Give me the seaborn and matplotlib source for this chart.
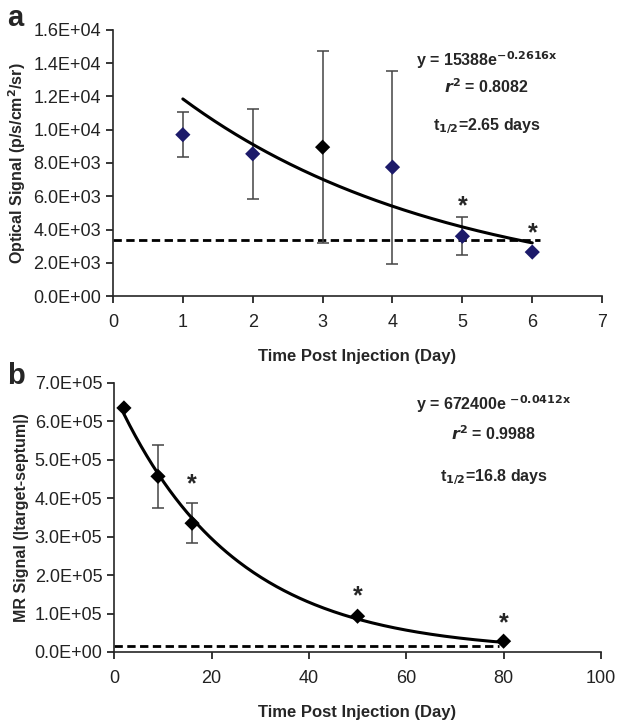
import numpy as np
import pandas as pd
import seaborn as sns
import matplotlib.pyplot as plt
from matplotlib.ticker import FuncFormatter

sns.set_style("ticks")
plt.rcParams['font.family'] = ['Liberation Sans', 'DejaVu Sans']

# panel a: optical signal
opt_day = [1, 2, 3, 4, 5, 6]
opt_signal = [9700, 8550, 8950, 7750, 3600, 2650]
opt_err = [1350, 2700, 5750, 5800, 1150, 0]
opt_colors = ['#1c1a6a', '#1c1a6a', '#000000', '#1c1a6a', '#1c1a6a', '#1c1a6a']
opt_baseline = 3350
opt_fit_a, opt_fit_k = 15388, -0.2616
opt_star_day = [5, 6]
opt_star_y = [5400, 3800]

# panel b: MR signal
mr_day = [2, 9, 16, 50, 80]
mr_signal = [635000, 457000, 335000, 93000, 28000]
mr_err = [0, 82000, 52000, 0, 0]
mr_baseline = 15000
mr_fit_a, mr_fit_k = 672400, -0.0412
mr_star_day = [16, 50, 80]
mr_star_y = [435000, 145000, 75000]

sci = FuncFormatter(lambda v, p: f"{v:.1E}")

fig = plt.figure(figsize=(6.24, 7.26), dpi=100)
ax1 = fig.add_axes([0.181, 0.592, 0.784, 0.367])
ax2 = fig.add_axes([0.183, 0.102, 0.780, 0.3705])

def draw(ax, x, y, err, colors, base, fa, fk, xend, sx, sy):
    xs = np.linspace(min(x), max(x), 200)
    fit = pd.DataFrame({'x': xs, 'y': fa * np.exp(fk * xs)})
    ax.axhline(base, xmin=0, xmax=xend, color='black',
               lw=2, ls=(0, (3, 1.6)), zorder=1)
    ax.errorbar(x, y, yerr=err, fmt='none', ecolor='#444444', elinewidth=1.1,
                capsize=4, capthick=1.1, zorder=2)
    sns.lineplot(data=fit, x='x', y='y', ax=ax, color='black', lw=2.2, zorder=3)
    df = pd.DataFrame({'x': x, 'y': y, 'c': colors})
    sns.scatterplot(data=df, x='x', y='y', hue='c', palette={c: c for c in set(colors)},
                    marker='D', s=60, edgecolor='none', legend=False, ax=ax, zorder=4)
    for a, b in zip(sx, sy):
        ax.text(a, b, '*', ha='center', va='center', fontsize=18, fontweight='bold')
    sns.despine(ax=ax)
    ax.spines['left'].set_linewidth(1.2)
    ax.spines['bottom'].set_linewidth(1.2)
    ax.tick_params(labelsize=13, width=1.1, length=5, colors='black', labelcolor='#222222')
    ax.tick_params(axis='x', pad=8)
    ax.yaxis.set_major_formatter(sci)

draw(ax1, opt_day, opt_signal, opt_err, opt_colors, opt_baseline,
     opt_fit_a, opt_fit_k, 0.872, opt_star_day, opt_star_y)
ax1.set_xlim(0, 7)
ax1.set_ylim(0, 16000)
ax1.set_yticks(np.arange(0, 16001, 2000))
ax1.set_xticks(range(0, 8))
ax1.set_xlabel('Time Post Injection (Day)', fontsize=12, fontweight='bold', labelpad=13)
ax1.set_ylabel('Optical Signal (p/s/cm$^\\mathbf{2}$/sr)', fontsize=11.5, fontweight='bold',
               labelpad=4)
ax1.text(5.35, 14200, 'y = 15388e$^{\\mathbf{-0.2616x}}$', ha='center', va='center',
         fontsize=11.5, fontweight='bold')
ax1.text(5.35, 12600, '$\\mathbfit{r}$$^{\\mathbf{2}}$ = 0.8082', ha='center', va='center',
         fontsize=11.5, fontweight='bold')
ax1.text(5.35, 10200, 't$_{\\mathbf{1/2}}$=2.65 days', ha='center', va='center',
         fontsize=11.5, fontweight='bold')

draw(ax2, mr_day, mr_signal, mr_err, ['#000000'] * 5, mr_baseline,
     mr_fit_a, mr_fit_k, 0.79, mr_star_day, mr_star_y)
ax2.set_xlim(0, 100)
ax2.set_ylim(0, 700000)
ax2.set_yticks(np.arange(0, 700001, 100000))
ax2.set_xticks(range(0, 101, 20))
ax2.set_xlabel('Time Post Injection (Day)', fontsize=12, fontweight='bold', labelpad=13)
ax2.set_ylabel('MR Signal (|target-septum|)', fontsize=11.5, fontweight='bold', labelpad=4)
ax2.text(78, 644000, 'y = 672400e $^{\\mathbf{-0.0412x}}$', ha='center', va='center',
         fontsize=11.5, fontweight='bold')
ax2.text(78, 568000, '$\\mathbfit{r}$$^{\\mathbf{2}}$ = 0.9988', ha='center', va='center',
         fontsize=11.5, fontweight='bold')
ax2.text(78, 456000, 't$_{\\mathbf{1/2}}$=16.8 days', ha='center', va='center',
         fontsize=11.5, fontweight='bold')

fig.text(0.012, 0.975, 'a', fontsize=21, fontweight='bold', va='center')
fig.text(0.012, 0.482, 'b', fontsize=21, fontweight='bold', va='center')

fig.savefig('out.png', dpi=100)
